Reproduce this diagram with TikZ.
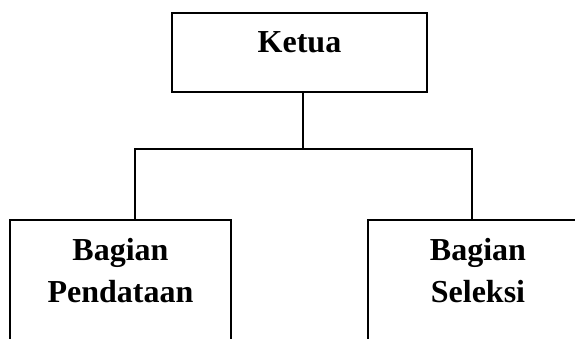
\documentclass[tikz,border=0pt]{standalone}
\usepackage{fontspec}
\setmainfont{Liberation Serif}
\begin{document}
\begin{tikzpicture}[x=1pt,y=1pt,
  box/.style={draw,line width=1.6pt,inner sep=0pt,rectangle},
  lbl/.style={anchor=base,inner sep=0pt,font=\fontsize{32}{38}\selectfont\bfseries},
  conn/.style={line width=1.5pt}]
\useasboundingbox (0,0) rectangle (575,338);
\node[box,minimum width=255pt,minimum height=79pt] (ketua) at (299.5,285.5) {};
\node[lbl] (tk) at (299.5,285) {Ketua};
\node[box,anchor=north,minimum width=221pt,minimum height=200pt] (pend) at (120.5,119) {};
\node[box,anchor=north west,minimum width=260pt,minimum height=200pt] (sel) at (367,119) {};
\node[lbl] (p1) at (120.5,78) {Bagian};
\node[lbl] (p2) at (120.5,36) {Pendataan};
\node[lbl] (s1) at (478,78) {Bagian};
\node[lbl] (s2) at (478,36) {Seleksi};
\coordinate (j) at (303,189);
\coordinate (hl) at (135,189);
\coordinate (hr) at (472,189);
\draw[conn] (ketua.south -| j) -- (j);
\draw[conn] (hl |- pend.north) -- (hl) -- (hr) -- (hr |- sel.north);
\end{tikzpicture}
\end{document}
